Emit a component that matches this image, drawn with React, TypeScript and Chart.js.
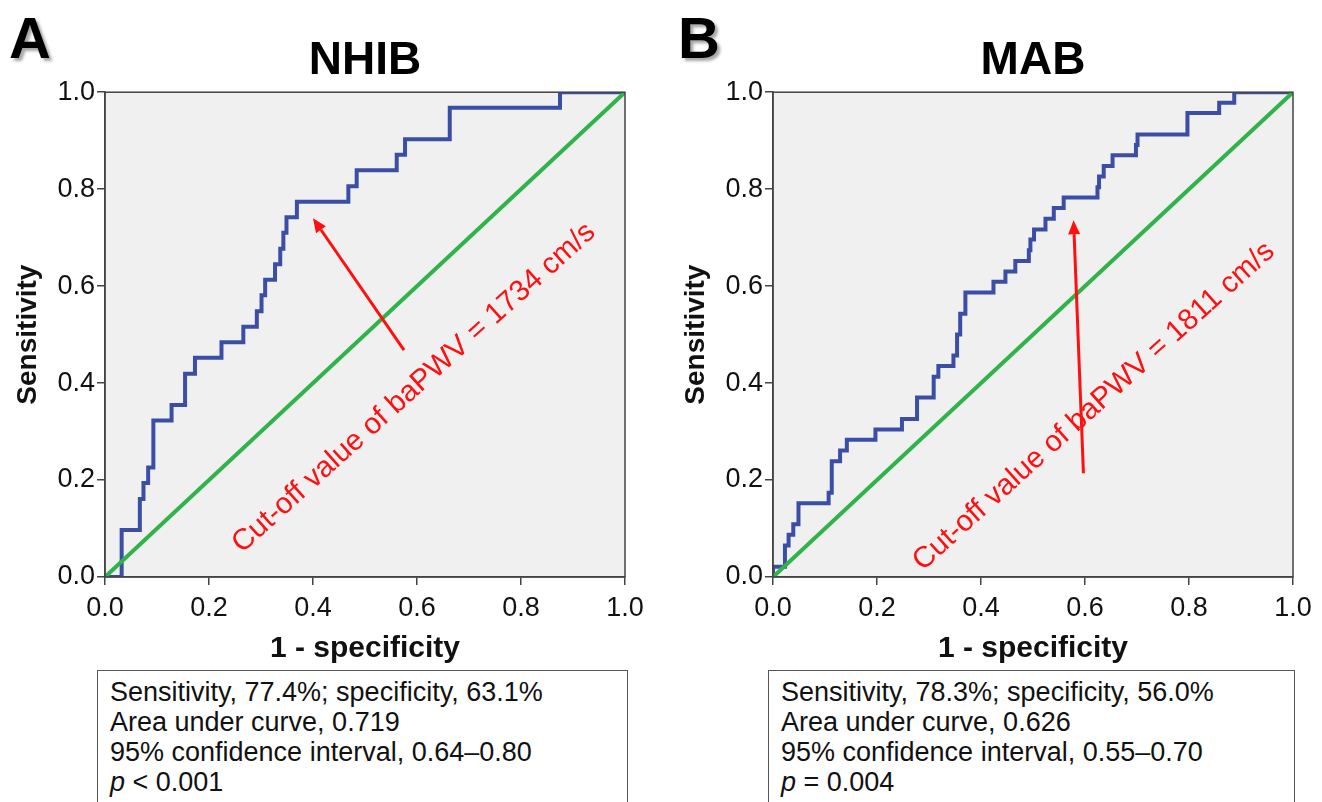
import React, { useEffect, useRef } from "react";
import { Chart, registerables } from "chart.js";

Chart.register(...registerables);

// ---------- data ----------
const axisTicks = [0, 0.2, 0.4, 0.6, 0.8, 1.0];
const refLine = [0, 1];

// NHIB ROC staircase vertices (1 - specificity, sensitivity)
const nhibFpr = [
  0, 0.032, 0.032, 0.067, 0.067, 0.074, 0.074, 0.083, 0.083, 0.093, 0.093, 0.128,
  0.128, 0.154, 0.154, 0.173, 0.173, 0.224, 0.224, 0.266, 0.266, 0.292, 0.292, 0.301,
  0.301, 0.308, 0.308, 0.327, 0.327, 0.337, 0.337, 0.343, 0.343, 0.349, 0.349, 0.369,
  0.369, 0.468, 0.468, 0.484, 0.484, 0.561, 0.561, 0.577, 0.577, 0.663, 0.663, 0.875,
  0.875, 1.0,
];
const nhibTpr = [
  0, 0, 0.097, 0.097, 0.161, 0.161, 0.194, 0.194, 0.226, 0.226, 0.323, 0.323,
  0.355, 0.355, 0.419, 0.419, 0.452, 0.452, 0.484, 0.484, 0.516, 0.516, 0.548, 0.548,
  0.581, 0.581, 0.613, 0.613, 0.645, 0.645, 0.677, 0.677, 0.71, 0.71, 0.742, 0.742,
  0.774, 0.774, 0.806, 0.806, 0.839, 0.839, 0.871, 0.871, 0.903, 0.903, 0.968, 0.968,
  1.0, 1.0,
];

// MAB ROC staircase vertices
const mabFpr = [
  0, 0, 0.023, 0.023, 0.03, 0.03, 0.039, 0.039, 0.049, 0.049, 0.107, 0.107,
  0.113, 0.113, 0.129, 0.129, 0.142, 0.142, 0.197, 0.197, 0.248, 0.248, 0.277, 0.277,
  0.309, 0.309, 0.318, 0.318, 0.347, 0.347, 0.354, 0.354, 0.36, 0.36, 0.37, 0.37,
  0.424, 0.424, 0.447, 0.447, 0.466, 0.466, 0.492, 0.492, 0.495, 0.495, 0.502, 0.502,
  0.524, 0.524, 0.54, 0.54, 0.559, 0.559, 0.624, 0.624, 0.627, 0.627, 0.636, 0.636,
  0.653, 0.653, 0.698, 0.698, 0.701, 0.701, 0.797, 0.797, 0.858, 0.858, 0.887, 0.887,
  1.0,
];
const mabTpr = [
  0, 0.021, 0.021, 0.065, 0.065, 0.087, 0.087, 0.109, 0.109, 0.152, 0.152, 0.174,
  0.174, 0.239, 0.239, 0.261, 0.261, 0.283, 0.283, 0.304, 0.304, 0.326, 0.326, 0.37,
  0.37, 0.413, 0.413, 0.435, 0.435, 0.457, 0.457, 0.5, 0.5, 0.543, 0.543, 0.587,
  0.587, 0.609, 0.609, 0.63, 0.63, 0.652, 0.652, 0.674, 0.674, 0.696, 0.696, 0.717,
  0.717, 0.739, 0.739, 0.761, 0.761, 0.783, 0.783, 0.804, 0.804, 0.826, 0.826, 0.848,
  0.848, 0.87, 0.87, 0.891, 0.891, 0.913, 0.913, 0.957, 0.957, 0.978, 0.978, 1.0,
  1.0,
];

const nhibStats = [
  "Sensitivity, 77.4%; specificity, 63.1%",
  "Area under curve, 0.719",
  "95% confidence interval, 0.64\u20130.80",
];
const nhibP = "< 0.001";
const mabStats = [
  "Sensitivity, 78.3%; specificity, 56.0%",
  "Area under curve, 0.626",
  "95% confidence interval, 0.55\u20130.70",
];
const mabP = "= 0.004";

// ---------- styles ----------
const FONT = '"Liberation Sans", Arial, Helvetica, sans-serif';
const BLUE = "#3a4ea6";
const GREEN = "#2fb34a";
const RED = "#ff1010";
const FRAME = "#444444";

Chart.defaults.font.family = FONT;

const framePlugin = {
  id: "plotFrame",
  beforeDraw(chart: any) {
    const { ctx, chartArea } = chart;
    ctx.save();
    ctx.fillStyle = "#f0f0f0";
    ctx.fillRect(chartArea.left, chartArea.top, chartArea.width, chartArea.height);
    ctx.restore();
  },
  afterDatasetsDraw(chart: any) {
    const { ctx, chartArea } = chart;
    ctx.save();
    ctx.strokeStyle = FRAME;
    ctx.lineWidth = 1.5;
    ctx.strokeRect(chartArea.left, chartArea.top, chartArea.width, chartArea.height);
    ctx.restore();
  },
};

const cutoffPlugin = {
  id: "cutoff",
  afterDatasetsDraw(chart: any, _args: any, opts: any) {
    if (!opts || !opts.text) return;
    const { ctx } = chart;
    const xs = chart.scales.x;
    const ys = chart.scales.y;
    const x1 = xs.getPixelForValue(opts.from[0]);
    const y1 = ys.getPixelForValue(opts.from[1]);
    const x2 = xs.getPixelForValue(opts.to[0]);
    const y2 = ys.getPixelForValue(opts.to[1]);
    const ang = Math.atan2(y2 - y1, x2 - x1);
    const head = 14;
    const hw = 6;
    const bx = x2 - head * Math.cos(ang);
    const by = y2 - head * Math.sin(ang);
    ctx.save();
    ctx.strokeStyle = RED;
    ctx.fillStyle = RED;
    ctx.lineWidth = 3;
    ctx.beginPath();
    ctx.moveTo(x1, y1);
    ctx.lineTo(bx, by);
    ctx.stroke();
    ctx.beginPath();
    ctx.moveTo(x2, y2);
    ctx.lineTo(bx + hw * Math.sin(ang), by - hw * Math.cos(ang));
    ctx.lineTo(bx - hw * Math.sin(ang), by + hw * Math.cos(ang));
    ctx.closePath();
    ctx.fill();
    const tx = xs.getPixelForValue(opts.textAt[0]);
    const ty = ys.getPixelForValue(opts.textAt[1]);
    ctx.translate(tx, ty);
    ctx.rotate((opts.angle * Math.PI) / 180);
    ctx.font = `29.5px ${FONT}`;
    ctx.textAlign = "center";
    ctx.textBaseline = "middle";
    ctx.fillText(opts.text, 0, 0);
    ctx.restore();
  },
};

function makeConfig(title: string, fpr: number[], tpr: number[], note: any, padRight: number): any {
  const roc = fpr.map((x, i) => ({ x, y: tpr[i] }));
  const diag = refLine.map((v) => ({ x: v, y: v }));
  const tickCfg = {
    font: { size: 27 },
    color: "#111",
    maxRotation: 0,
    autoSkip: false,
    callback: (v: any) => Number(v).toFixed(1),
  };
  const gridCfg = {
    drawOnChartArea: false,
    drawTicks: true,
    tickLength: 8,
    color: FRAME,
    lineWidth: 1.5,
  };
  return {
    type: "scatter",
    data: {
      datasets: [
        {
          data: roc,
          showLine: true,
          borderColor: BLUE,
          borderWidth: 4,
          pointRadius: 0,
          tension: 0,
          order: 1,
        },
        {
          data: diag,
          showLine: true,
          borderColor: GREEN,
          borderWidth: 4,
          pointRadius: 0,
          tension: 0,
          order: 0,
        },
      ],
    },
    options: {
      animation: false,
      responsive: false,
      events: [],
      layout: { padding: { left: 0, right: padRight, top: 0, bottom: 0 } },
      plugins: {
        legend: { display: false },
        tooltip: { enabled: false },
        title: {
          display: true,
          text: title,
          color: "#000",
          fullSize: false,
          font: { size: 46, weight: "bold" },
          padding: { top: 34, bottom: 3 },
        },
        cutoff: note,
      },
      scales: {
        x: {
          type: "linear",
          min: 0,
          max: 1,
          afterBuildTicks: (s: any) => {
            s.ticks = axisTicks.map((v) => ({ value: v }));
          },
          afterFit: (s: any) => {
            s.height = 93;
          },
          ticks: { ...tickCfg, padding: 7 },
          grid: gridCfg,
          border: { display: true, color: FRAME, width: 1.5 },
          title: {
            display: true,
            text: "1 - specificity",
            color: "#111",
            font: { size: 30, weight: "bold" },
            padding: { top: 0, bottom: 3 },
          },
        },
        y: {
          type: "linear",
          min: 0,
          max: 1,
          afterBuildTicks: (s: any) => {
            s.ticks = axisTicks.map((v) => ({ value: v }));
          },
          afterFit: (s: any) => {
            s.width = 105;
          },
          ticks: { ...tickCfg, padding: 2 },
          grid: gridCfg,
          border: { display: true, color: FRAME, width: 1.5 },
          title: {
            display: true,
            text: "Sensitivity",
            color: "#111",
            font: { size: 28, weight: "bold" },
            padding: { top: 11, bottom: 0 },
          },
        },
      },
    },
    plugins: [framePlugin, cutoffPlugin],
  };
}

function RocChart(props: {
  title: string;
  fpr: number[];
  tpr: number[];
  note: any;
  left: number;
  width: number;
  padRight: number;
}) {
  const ref = useRef<HTMLCanvasElement | null>(null);
  useEffect(() => {
    if (!ref.current) return;
    const chart = new Chart(ref.current, makeConfig(props.title, props.fpr, props.tpr, props.note, props.padRight));
    return () => chart.destroy();
  }, []);
  return (
    <canvas
      ref={ref}
      width={props.width}
      height={670}
      style={{ position: "absolute", left: props.left, top: 0, width: props.width, height: 670 }}
    />
  );
}

function Letter(props: { text: string; left: number }) {
  return (
    <div
      style={{
        position: "absolute",
        left: props.left,
        top: 9,
        fontFamily: FONT,
        fontWeight: "bold",
        fontSize: 58,
        lineHeight: "58px",
        color: "#000",
        textShadow: "3px 3px 3px rgba(0,0,0,0.35)",
      }}
    >
      {props.text}
    </div>
  );
}

function StatsBox(props: { lines: string[]; p: string; left: number; width: number }) {
  return (
    <div
      style={{
        position: "absolute",
        left: props.left,
        top: 670,
        width: props.width,
        height: 150,
        boxSizing: "border-box",
        border: "1.5px solid #555",
        padding: "6px 0 0 12px",
        fontFamily: FONT,
        fontSize: 27,
        lineHeight: "30px",
        color: "#111",
        background: "#fff",
        whiteSpace: "nowrap",
      }}
    >
      {props.lines.map((l, i) => (
        <div key={i}>{l}</div>
      ))}
      <div>
        <i>p</i> {props.p}
      </div>
    </div>
  );
}

const nhibNote = {
  from: [0.575, 0.468],
  to: [0.4, 0.74],
  textAt: [0.594, 0.39],
  angle: -42,
  text: "Cut-off value of baPWV = 1734 cm/s",
};
const mabNote = {
  from: [0.597, 0.214],
  to: [0.578, 0.736],
  textAt: [0.617, 0.352],
  angle: -42,
  text: "Cut-off value of baPWV = 1811 cm/s",
};

export default function App() {
  return (
    <div
      style={{
        position: "absolute",
        left: 0,
        top: 0,
        width: 1322,
        height: 802,
        overflow: "hidden",
        background: "#fff",
      }}
    >
      <RocChart title="NHIB" fpr={nhibFpr} tpr={nhibTpr} note={nhibNote} left={0} width={660} padRight={35} />
      <RocChart title="MAB" fpr={mabFpr} tpr={mabTpr} note={mabNote} left={668} width={654} padRight={29} />
      <Letter text="A" left={9} />
      <Letter text="B" left={678} />
      <StatsBox lines={nhibStats} p={nhibP} left={97} width={531} />
      <StatsBox lines={mabStats} p={mabP} left={768} width={527} />
    </div>
  );
}
